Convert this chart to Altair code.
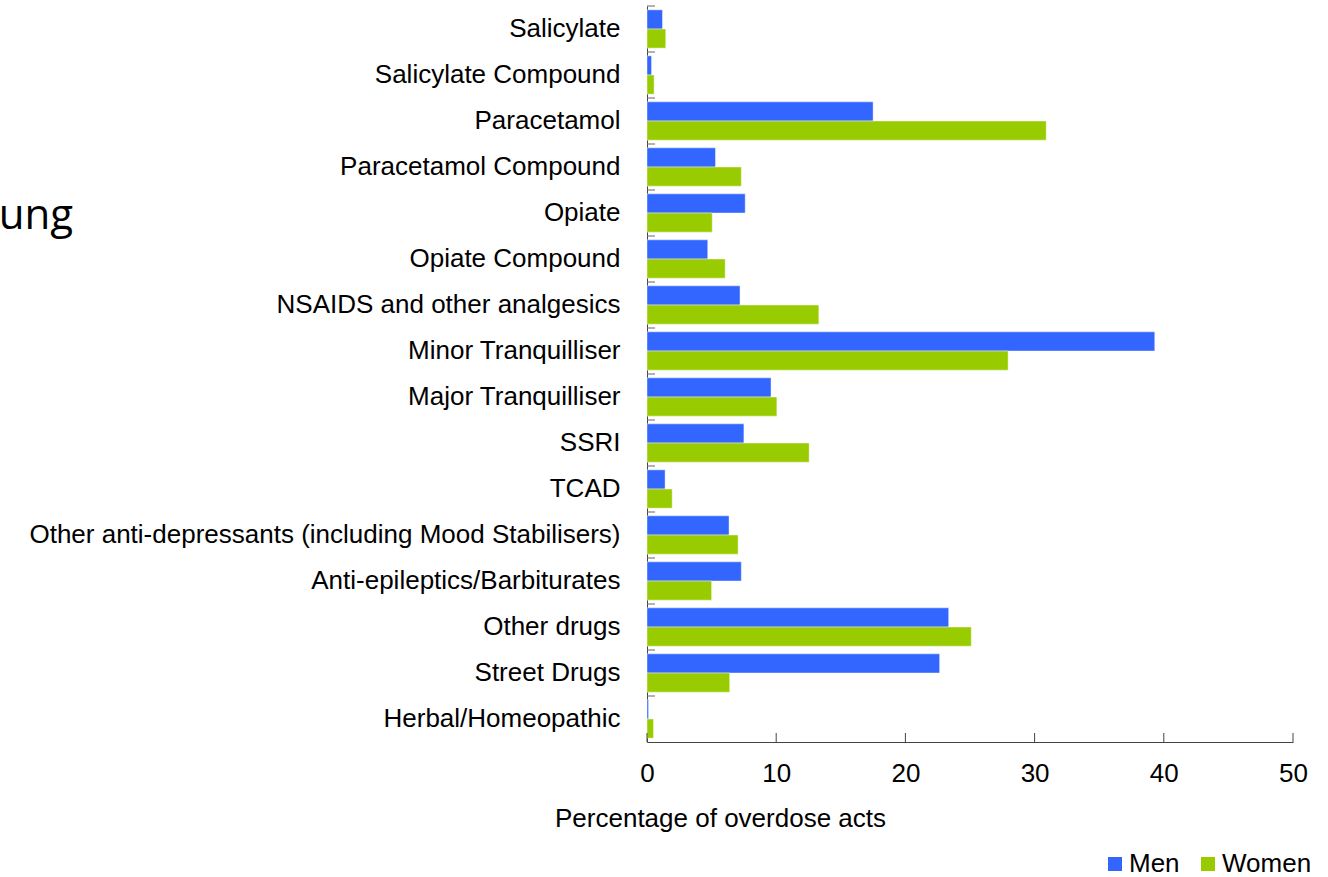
import altair as alt
import pandas as pd

# Substances involved in overdose acts, top to bottom
categories = [
    "Salicylate",
    "Salicylate Compound",
    "Paracetamol",
    "Paracetamol Compound",
    "Opiate",
    "Opiate Compound",
    "NSAIDS and other analgesics",
    "Minor Tranquilliser",
    "Major Tranquilliser",
    "SSRI",
    "TCAD",
    "Other anti-depressants (including Mood Stabilisers)",
    "Anti-epileptics/Barbiturates",
    "Other drugs",
    "Street Drugs\u00a0",
    "Herbal/Homeopathic",
]
groups = ["Men", "Women"]
men = [1.2, 0.35, 17.5, 5.3, 7.6, 4.7, 7.2, 39.3, 9.6, 7.5, 1.4, 6.35, 7.3, 23.35, 22.65, 0.12]
women = [1.45, 0.55, 30.9, 7.3, 5.05, 6.05, 13.3, 27.95, 10.05, 12.55, 1.95, 7.05, 5.0, 25.1, 6.4, 0.5]
x_ticks = [0, 10, 20, 30, 40, 50]
group_colors = ["#3366FF", "#99CC00"]
side_word = "ung"

rows = []
for cat, m, w in zip(categories, men, women):
    rows.append({"substance": cat, "sex": "Men", "pct": m})
    rows.append({"substance": cat, "sex": "Women", "pct": w})
df = pd.DataFrame(rows)
cat_df = pd.DataFrame({"substance": categories})
tick_df = pd.DataFrame({"pct": x_ticks})
word_df = pd.DataFrame({"t": [side_word]})

FONT = "Liberation Sans"
FS = 26
W, H = 646, 736

y_scale = alt.Scale(domain=categories, paddingInner=0, paddingOuter=0)
x_scale = alt.Scale(domain=[0, 50], nice=False)

y_axis = alt.Axis(
    title=None,
    ticks=False,
    tickSize=0,
    labelPadding=27,
    labelFont=FONT,
    labelFontSize=FS,
    labelColor="#000000",
    labelLimit=0,
    domainColor="#444444",
    domainWidth=1,
)
x_axis = alt.Axis(
    title="Percentage of overdose acts",
    values=x_ticks,
    ticks=False,
    tickSize=0,
    grid=False,
    labelFlush=False,
    labelPadding=18,
    labelFont=FONT,
    labelFontSize=FS,
    labelColor="#000000",
    domainColor="#444444",
    domainWidth=1,
    titleFont=FONT,
    titleFontSize=FS,
    titleFontWeight="normal",
    titleColor="#000000",
    titleX=73,
    titleY=76,
    titleAlign="center",
    titleBaseline="middle",
)

bars = alt.Chart(df).mark_bar(stroke="white", strokeWidth=0.6, strokeOpacity=0.7).encode(
    y=alt.Y("substance:N", scale=y_scale, sort=categories, axis=y_axis),
    yOffset=alt.YOffset(
        "sex:N",
        sort=groups,
        scale=alt.Scale(domain=groups, paddingInner=0, paddingOuter=0.2),
    ),
    x=alt.X("pct:Q", scale=x_scale, axis=x_axis),
    color=alt.Color(
        "sex:N",
        scale=alt.Scale(domain=groups, range=group_colors),
        legend=alt.Legend(
            title=None,
            orient="none",
            direction="horizontal",
            legendX=455,
            legendY=845,
            padding=0,
            symbolType="square",
            symbolSize=196,
            symbolStrokeWidth=0,
            labelFont=FONT,
            labelFontSize=FS,
            labelColor="#000000",
            labelOffset=1,
            columnPadding=15,
        ),
    ),
)

# Category separators drawn inward from the vertical axis
y_ticks = alt.Chart(cat_df).mark_rule(color="#666666", strokeWidth=1).encode(
    y=alt.Y("substance:N", scale=y_scale, sort=categories, bandPosition=0),
    x=alt.value(0),
    x2=alt.value(8),
)

# Value ticks drawn upward from the horizontal axis
x_tick_marks = alt.Chart(tick_df).mark_rule(color="#444444", strokeWidth=1).encode(
    x=alt.X("pct:Q", scale=x_scale),
    y=alt.value(H),
    y2=alt.value(H - 9),
)

word = alt.Chart(word_df).mark_text(
    font="Open Sans", fontSize=42, align="right", baseline="alphabetic", color="#000000"
).encode(
    text="t:N",
    x=alt.value(73 - 647),
    y=alt.value(229 - 6),
)

chart = (
    alt.layer(bars, y_ticks, x_tick_marks, word)
    .properties(
        width=W,
        height=H,
        autosize=alt.AutoSizeParams(type="none"),
        padding={"left": 647, "top": 6, "right": 35, "bottom": 135},
        view=alt.ViewBackground(stroke="transparent", strokeWidth=0),
    )
    .configure_view(stroke="transparent", strokeWidth=0)
    .configure(background="white")
)

chart.save("out.html", embed_options={"renderer": "svg", "actions": False})
